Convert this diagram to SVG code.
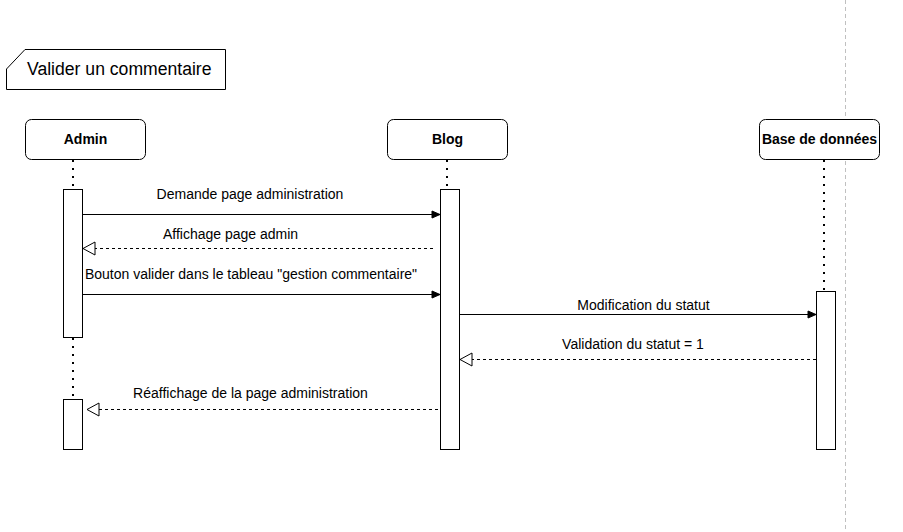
<svg xmlns="http://www.w3.org/2000/svg" width="903" height="532" viewBox="0 0 903 532">
<style>
text{font-family:"Liberation Sans",Arial,sans-serif;fill:#000}
.head{font-size:14px;font-weight:bold;text-anchor:middle}
.lbl{font-size:14px;text-anchor:middle}
.box{fill:#fff;stroke:#000;stroke-width:1}
.life{stroke:#000;stroke-width:2;stroke-dasharray:2 6;fill:none}
.msg{stroke:#000;stroke-width:1;fill:none}
.dash{stroke-dasharray:3 3}
</style>
<defs>
<marker id="block" markerUnits="userSpaceOnUse" markerWidth="10" markerHeight="9" refX="8" refY="3.5" orient="auto" overflow="visible">
<path d="M0,0 L8,3.5 L0,7 Z" fill="#000" stroke="#000" stroke-width="1" stroke-dasharray="none"/>
</marker>
<marker id="open" markerUnits="userSpaceOnUse" markerWidth="14" markerHeight="15" refX="12" refY="6.5" orient="auto" overflow="visible">
<path d="M0,0 L12,6.5 L0,13 Z" fill="#fff" stroke="#000" stroke-width="1" stroke-dasharray="none"/>
</marker>
</defs>
<rect width="903" height="532" fill="#fff"/>
<line x1="845.5" y1="0" x2="845.5" y2="532" stroke="#c0c0c0" stroke-width="1" stroke-dasharray="4 3"/>
<g id="frame">
<path d="M25,49.5 H225.5 V89.5 H6.5 V69 Z" fill="#fff" stroke="#000" stroke-width="1"/>
<text x="27" y="75" font-size="17.6">Valider un commentaire</text>
</g>
<g id="admin">
<rect class="box" x="25.5" y="119.5" width="120" height="40" rx="6"/>
<text class="head" x="85.5" y="144">Admin</text>
<line class="life" x1="73" y1="160" x2="73" y2="189"/>
<line class="life" x1="73" y1="338" x2="73" y2="399"/>
<rect class="box" x="63.5" y="189.5" width="19" height="148"/>
<rect class="box" x="63.5" y="399.5" width="19" height="50"/>
</g>
<g id="blog">
<rect class="box" x="387.5" y="119.5" width="120" height="40" rx="6"/>
<text class="head" x="447.5" y="144">Blog</text>
<line class="life" x1="447" y1="160" x2="447" y2="189"/>
<rect class="box" x="440.5" y="189.5" width="19" height="260"/>
</g>
<g id="bdd">
<rect class="box" x="759.5" y="119.5" width="120" height="40" rx="6"/>
<text class="head" x="819.5" y="144">Base de données</text>
<line class="life" x1="824" y1="160" x2="824" y2="291"/>
<rect class="box" x="816.5" y="291.5" width="19" height="158"/>
</g>
<g id="connectors">
<line class="msg" x1="83" y1="214.5" x2="440" y2="214.5" marker-end="url(#block)"/>
<text class="lbl" x="250" y="199">Demande page administration</text>
<line class="msg dash" x1="433" y1="248.5" x2="83" y2="248.5" marker-end="url(#open)"/>
<text class="lbl" x="230.5" y="239">Affichage page admin</text>
<line class="msg" x1="83" y1="294.5" x2="440" y2="294.5" marker-end="url(#block)"/>
<text class="lbl" x="251" y="279">Bouton valider dans le tableau "gestion commentaire"</text>
<line class="msg" x1="460" y1="314.5" x2="816" y2="314.5" marker-end="url(#block)"/>
<text class="lbl" x="643.5" y="310">Modification du statut</text>
<line class="msg dash" x1="816" y1="359.5" x2="460" y2="359.5" marker-end="url(#open)"/>
<text class="lbl" x="633" y="349">Validation du statut = 1</text>
<line class="msg dash" x1="438" y1="409.5" x2="87" y2="409.5" marker-end="url(#open)"/>
<text class="lbl" x="250.5" y="398">Réaffichage de la page administration</text>
</g>
</svg>
